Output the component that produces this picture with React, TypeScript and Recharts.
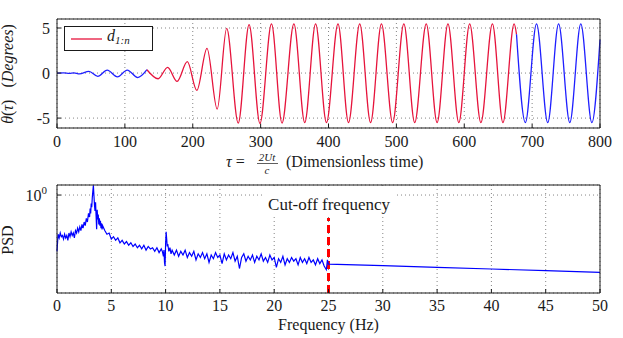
import React from 'react';
import {
  LineChart,
  Line,
  XAxis,
  YAxis,
  CartesianGrid,
  Legend,
  ReferenceLine,
  ReferenceArea
} from 'recharts';

const SERIF = 'Liberation Serif';
const INK = '#1a1a1a';
const GRID = '#858585';
const BLUE = '#1f1fff';
const CRIMSON = '#e6143c';

// θ(τ): peaks, troughs and colour switch points
const tau = [
  0, 10, 18, 25, 33, 47, 60, 74, 89, 103.5,
  119, 132.5, 149, 163, 177, 192, 206, 221, 236, 250,
  267, 283, 299, 316, 331.5, 349, 365, 381, 397, 414,
  429.5, 446, 462, 478, 494.5, 511, 527, 544, 560, 576,
  592, 608, 624.5, 641.5, 657, 673.5, 677, 690, 706.5, 723,
  739, 755.5, 771.7, 788, 800
];
const theta = [
  0, 0.02, -0.03, 0.03, -0.1, 0.19, -0.37, 0.32, -0.42, 0.33,
  -0.5, 0.37, -0.63, 0.63, -0.93, 1.26, -1.93, 2.74, -4.0, 4.95,
  -5.55, 5.37, -5.6, 5.45, -5.55, 5.45, -5.5, 5.45, -5.5, 5.45,
  -5.5, 5.45, -5.5, 5.45, -5.5, 5.45, -5.5, 5.45, -5.5, 5.45,
  -5.5, 5.45, -5.5, 5.45, -5.5, 5.45, 4.3, -5.5, 5.45, -5.5,
  5.45, -5.5, 5.45, -5.5, 3.7
];
const redFrom = 132.5;
const redTo = 677;
const tauTicks = [0, 100, 200, 300, 400, 500, 600, 700, 800];
const thetaTicks = [-5, 0, 5];

// PSD (log10 values)
const psdFreq = [
  0, 0.1, 0.2, 0.3, 0.4, 0.5, 0.6, 0.7, 0.8, 0.9,
  1.0, 1.1, 1.2, 1.3, 1.4, 1.5, 1.6, 1.7, 1.8, 1.9,
  2.0, 2.1, 2.2, 2.3, 2.4, 2.5, 2.6, 2.7, 2.8, 2.9, 3.0,
  3.05, 3.1, 3.15, 3.2, 3.25, 3.3, 3.35, 3.4, 3.45, 3.5,
  3.55, 3.6, 3.65, 3.7, 3.75, 3.8, 3.85, 3.9, 3.95, 4.0,
  4.05, 4.1, 4.15, 4.2,
  4.4, 4.6, 4.8, 5.0, 5.2, 5.4, 5.6, 5.8, 6.0, 6.2,
  6.4, 6.6, 6.8, 7.0, 7.2, 7.4, 7.6, 7.8, 8.0, 8.2,
  8.4, 8.6, 8.8, 9.0, 9.2, 9.4, 9.6,
  9.7, 9.8, 9.85, 9.9, 9.95, 10.0, 10.05, 10.1, 10.15, 10.2,
  10.3, 10.4, 10.5, 10.6,
  10.8, 11.0, 11.2, 11.4, 11.6, 11.8, 12.0, 12.2, 12.4, 12.6,
  12.8, 13.0, 13.2, 13.4, 13.6, 13.8, 14.0, 14.2, 14.4, 14.6,
  14.8, 15.0, 15.2, 15.4, 15.6, 15.8, 16.0, 16.2, 16.4, 16.6,
  16.8, 17.0, 17.2, 17.4, 17.6, 17.8, 18.0, 18.2, 18.4, 18.6,
  18.8, 19.0, 19.2, 19.4, 19.6, 19.8, 20.0, 20.2, 20.4, 20.6,
  20.8, 21.0, 21.2, 21.4, 21.6, 21.8, 22.0, 22.2, 22.4, 22.6,
  22.8, 23.0, 23.2, 23.4, 23.6, 23.8, 24.0, 24.2, 24.4, 24.6,
  24.8, 24.9, 25.0,
  30, 35, 40, 45, 50
];
const psdLog = [
  -0.46, -0.32, -0.35, -0.31, -0.34, -0.33, -0.36, -0.32, -0.35, -0.33,
  -0.37, -0.31, -0.34, -0.30, -0.33, -0.31, -0.35, -0.29, -0.31, -0.27,
  -0.30, -0.26, -0.29, -0.24, -0.27, -0.22, -0.25, -0.19, -0.22, -0.15, -0.18,
  -0.11, -0.15, -0.07, -0.10, -0.02, 0.03, 0.08, 0.0, -0.08, -0.13,
  -0.06, -0.17, -0.28, -0.12, -0.20, -0.16, -0.24, -0.19, -0.25, -0.21,
  -0.27, -0.23, -0.28, -0.25,
  -0.29, -0.32, -0.31, -0.36, -0.34, -0.37, -0.35, -0.39, -0.37, -0.40,
  -0.38, -0.41, -0.39, -0.42, -0.40, -0.43, -0.41, -0.44, -0.41, -0.45,
  -0.42, -0.44, -0.43, -0.46, -0.43, -0.47, -0.44,
  -0.46, -0.50, -0.45, -0.55, -0.58, -0.40, -0.30, -0.36, -0.42, -0.40,
  -0.46, -0.43, -0.48, -0.45,
  -0.49, -0.45, -0.50, -0.46, -0.49, -0.45, -0.51, -0.47, -0.50, -0.46,
  -0.53, -0.48, -0.51, -0.47, -0.52, -0.48, -0.55, -0.49, -0.52, -0.47,
  -0.51, -0.49, -0.56, -0.48, -0.53, -0.49, -0.52, -0.47, -0.54, -0.50,
  -0.60, -0.51, -0.48, -0.54, -0.50, -0.53, -0.49, -0.55, -0.50, -0.53,
  -0.48, -0.54, -0.51, -0.55, -0.49, -0.53, -0.51, -0.59, -0.52, -0.55,
  -0.50, -0.57, -0.52, -0.55, -0.51, -0.54, -0.52, -0.57, -0.51, -0.55,
  -0.52, -0.56, -0.51, -0.55, -0.53, -0.57, -0.52, -0.56, -0.53, -0.58,
  -0.61, -0.53, -0.565,
  -0.577, -0.591, -0.604, -0.618, -0.632
];
const freqTicks = [0, 5, 10, 15, 20, 25, 30, 35, 40, 45, 50];
const psdTicks = [1];
const psdMin = Math.pow(10, -0.8);
const psdMax = Math.pow(10, 0.082);
const cutoffFreq = 25;
const cutoffTop = 0.648;

const thetaRows = tau.map((t, i) => ({
  tau: t,
  lead: t <= redFrom ? theta[i] : null,
  mid: t >= redFrom && t <= redTo ? theta[i] : null,
  tail: t >= redTo ? theta[i] : null
}));

const psdRows = psdFreq.map((f, i) => ({ f, psd: Math.pow(10, psdLog[i]) }));

// tick label renderers (serif, like the LaTeX-typeset original)
const BottomTick = ({ x, y, payload }: any) => (
  <text x={x} y={y} dy={11.4} textAnchor="middle" fontFamily={SERIF} fontSize={16} fill={INK}>
    {payload.value}
  </text>
);

const LeftTick = ({ x, y, payload }: any) => (
  <text x={x} y={y} dy={5.5} textAnchor="end" fontFamily={SERIF} fontSize={16} fill={INK}>
    {payload.value}
  </text>
);

const PowerTick = ({ x, y }: any) => (
  <text x={x} y={y + 5.5} textAnchor="end" fontFamily={SERIF} fontSize={16} fill={INK}>
    10<tspan fontSize={11} dy={-7}>0</tspan>
  </text>
);

const TopXTitle = () => (
  <g>
    <text x={226} y={167} fontFamily={SERIF} fontSize={16} fill={INK}>
      <tspan fontStyle="italic">τ</tspan> =
    </text>
    <text x={267} y={161} fontFamily={SERIF} fontSize={11} fontStyle="italic" textAnchor="middle" fill={INK}>2Ut</text>
    <line x1={257} x2={278} y1={163.5} y2={163.5} stroke={INK} strokeWidth={0.7} />
    <text x={267} y={173.5} fontFamily={SERIF} fontSize={11} fontStyle="italic" textAnchor="middle" fill={INK}>c</text>
    <text x={286} y={167} fontFamily={SERIF} fontSize={16} fill={INK}>(Dimensionless time)</text>
  </g>
);

const TopYTitle = () => (
  <text transform="rotate(-90)" x={-74} y={13} textAnchor="middle" fontFamily={SERIF} fontSize={16} fill={INK}>
    <tspan fontStyle="italic">θ</tspan>(<tspan fontStyle="italic">τ</tspan>)
    <tspan dx={12}>(</tspan><tspan fontStyle="italic">Degrees</tspan>)
  </text>
);

const BottomXTitle = () => (
  <text x={328.5} y={160} textAnchor="middle" fontFamily={SERIF} fontSize={16} fill={INK}>
    Frequency (Hz)
  </text>
);

const BottomYTitle = () => (
  <text transform="rotate(-90)" x={-70} y={13} textAnchor="middle" fontFamily={SERIF} fontSize={16} fill={INK}>
    PSD
  </text>
);

const CutoffText = ({ viewBox }: any) => (
  <text
    x={viewBox.x + viewBox.width / 2}
    y={viewBox.y + viewBox.height / 2 + 8.5}
    textAnchor="middle"
    fontFamily={SERIF}
    fontSize={17}
    fill={INK}
  >
    Cut-off frequency
  </text>
);

const LegendBox = ({ payload }: any) => {
  const entry = (payload || []).find((p: any) => p.dataKey === 'mid');
  const color = entry ? entry.color : CRIMSON;
  return (
    <div style={{ width: 87, height: 23, border: `1px solid ${INK}`, background: '#fff' }}>
      <svg width={87} height={23} style={{ display: 'block' }}>
        <line x1={6} x2={37} y1={12} y2={12} stroke={color} strokeWidth={1.3} />
        <text x={42} y={14} fontFamily={SERIF} fontSize={16} fontStyle="italic" fill={INK}>
          d<tspan fontSize={11} dy={3}>1:n</tspan>
        </text>
      </svg>
    </div>
  );
};

const ThetaChart = () => (
  <LineChart width={623} height={178} data={thetaRows} margin={{ top: 18, right: 22, bottom: 20, left: 0 }}>
    <CartesianGrid stroke={GRID} strokeDasharray="1 3" />
    <XAxis
      dataKey="tau"
      type="number"
      domain={[0, 800]}
      ticks={tauTicks}
      interval={0}
      height={30}
      stroke={INK}
      tickSize={-4}
      tickMargin={12}
      tick={BottomTick}
      label={{ content: TopXTitle }}
    />
    <XAxis
      xAxisId="top"
      orientation="top"
      dataKey="tau"
      type="number"
      domain={[0, 800]}
      ticks={tauTicks}
      interval={0}
      height={1}
      stroke={INK}
      tickSize={-4}
      tick={false}
    />
    <YAxis
      type="number"
      domain={[-6.1, 6]}
      ticks={thetaTicks}
      interval={0}
      allowDataOverflow
      width={57}
      stroke={INK}
      tickSize={-4}
      tickMargin={11}
      tick={LeftTick}
      label={{ content: TopYTitle }}
    />
    <YAxis
      yAxisId="right"
      orientation="right"
      type="number"
      domain={[-6.1, 6]}
      ticks={thetaTicks}
      interval={0}
      allowDataOverflow
      width={1}
      stroke={INK}
      tickSize={-4}
      tick={false}
    />
    <Legend
      layout="vertical"
      align="center"
      verticalAlign="middle"
      wrapperStyle={{ left: 64, top: 26, width: 'auto', height: 'auto' }}
      content={LegendBox}
    />
    <Line dataKey="lead" type="monotone" stroke={BLUE} strokeWidth={1.3} dot={false} isAnimationActive={false} legendType="none" />
    <Line dataKey="mid" name="d1:n" type="monotone" stroke={CRIMSON} strokeWidth={1.3} dot={false} isAnimationActive={false} />
    <Line dataKey="tail" type="monotone" stroke={BLUE} strokeWidth={1.3} dot={false} isAnimationActive={false} legendType="none" />
  </LineChart>
);

const PsdChart = () => (
  <LineChart width={623} height={168} data={psdRows} margin={{ top: 14, right: 22, bottom: 15, left: 0 }}>
    <CartesianGrid stroke={GRID} strokeDasharray="1 3" />
    <XAxis
      dataKey="f"
      type="number"
      domain={[0, 50]}
      ticks={freqTicks}
      interval={0}
      height={30}
      stroke={INK}
      tickSize={-4}
      tickMargin={11}
      tick={BottomTick}
      label={{ content: BottomXTitle }}
    />
    <XAxis
      xAxisId="top"
      orientation="top"
      dataKey="f"
      type="number"
      domain={[0, 50]}
      ticks={freqTicks}
      interval={0}
      height={1}
      stroke={INK}
      tickSize={-4}
      tick={false}
    />
    <YAxis
      type="number"
      scale="log"
      domain={[psdMin, psdMax]}
      ticks={psdTicks}
      interval={0}
      allowDataOverflow
      width={57}
      stroke={INK}
      tickSize={-4}
      tickMargin={14}
      tick={PowerTick}
      label={{ content: BottomYTitle }}
    />
    <YAxis
      yAxisId="right"
      orientation="right"
      type="number"
      scale="log"
      domain={[psdMin, psdMax]}
      ticks={psdTicks}
      interval={0}
      allowDataOverflow
      width={1}
      stroke={INK}
      tickSize={-4}
      tick={false}
    />
    <ReferenceArea
      x1={19}
      x2={31.1}
      y1={Math.pow(10, -0.171)}
      y2={Math.pow(10, 0.065)}
      fill="#ffffff"
      fillOpacity={1}
      stroke="none"
      ifOverflow="visible"
      label={{ content: CutoffText }}
    />
    <ReferenceLine
      segment={[{ x: cutoffFreq, y: psdMin }, { x: cutoffFreq, y: cutoffTop }]}
      stroke="#ff0000"
      strokeWidth={3}
      strokeDasharray="8 4"
      ifOverflow="visible"
    />
    <Line dataKey="psd" type="linear" stroke="#0000ff" strokeWidth={1.2} dot={false} isAnimationActive={false} />
  </LineChart>
);

export default function App() {
  return (
    <div style={{ position: 'absolute', left: 0, top: 0, width: 623, height: 338, background: '#fff' }}>
      <div style={{ position: 'absolute', left: 0, top: 0 }}>
        <ThetaChart />
      </div>
      <div style={{ position: 'absolute', left: 0, top: 170 }}>
        <PsdChart />
      </div>
    </div>
  );
}
